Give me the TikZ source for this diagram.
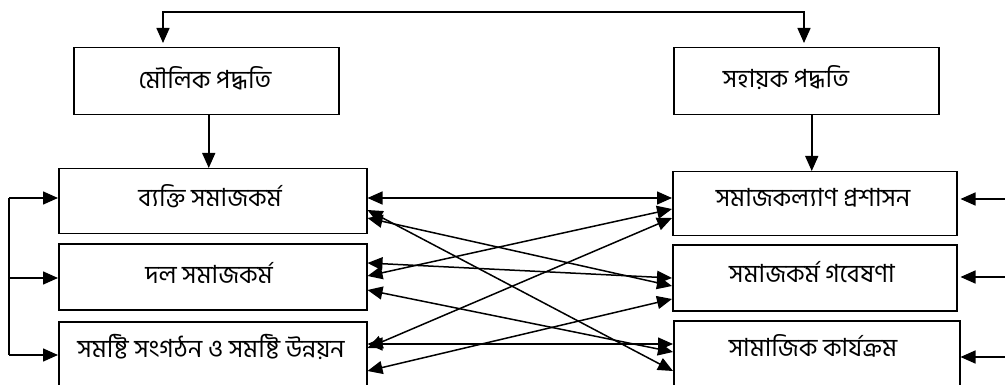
\documentclass[tikz,border=0pt]{standalone}
\usepackage{fontspec}
\newfontfamily\bnfont[Script=Bengali]{Hind Siliguri}
\usetikzlibrary{arrows.meta,calc}
\begin{document}
\begin{tikzpicture}[x=1pt,y=-1pt,
  box/.style={draw, line width=1.5pt, inner sep=0pt, anchor=north west},
  lbl/.style={font=\bnfont\fontsize{25}{30}\selectfont, inner sep=0pt},
  ln/.style={line width=1.5pt},
  arr/.style={ln, -{Triangle[length=15pt,width=13pt]}},
  dbl/.style={ln, {Triangle[length=15pt,width=13pt]}-{Triangle[length=15pt,width=13pt]}},
  ]
\clip (0,0) rectangle (1005,385);

% method boxes
\node[box, minimum width=265pt, minimum height=67pt] (lt) at (73,47) {};
\node[box, minimum width=265pt, minimum height=67pt] (rt) at (673,47) {};
\node[lbl] (ltt) at (205,78) {মৌলিক পদ্ধতি};
\node[lbl] (rtt) at (786,78) {সহায়ক পদ্ধতি};

% left column
\node[box, minimum width=308pt, minimum height=65pt] (l1) at (58,168) {};
\node[box, minimum width=308pt, minimum height=66pt] (l2) at (58,243) {};
\node[box, minimum width=308pt, minimum height=80pt] (l3) at (58,321) {};
\node[lbl] (l1t) at (210,196) {ব্যক্তি সমাজকর্ম};
\node[lbl] (l2t) at (209,273) {দল সমাজকর্ম};
\node[lbl] (l3t) at (211,347) {সমষ্টি সংগঠন ও সমষ্টি উন্নয়ন};

% right column
\node[box, minimum width=284pt, minimum height=64pt] (r1) at (672,171) {};
\node[box, minimum width=284pt, minimum height=66pt] (r2) at (672,244) {};
\node[box, minimum width=286pt, minimum height=80pt] (r3) at (673,320) {};
\node[lbl] (r1t) at (813,198) {সমাজকল্যাণ প্রশাসন};
\node[lbl] (r2t) at (812,272) {সমাজকর্ম গবেষণা};
\node[lbl] (r3t) at (813,346) {সামাজিক কার্যক্রম};

% link between the two method boxes
\draw[dbl, shorten <=4pt, shorten >=4pt]
  ($(lt.north west)+(90,0)$) -- ++(0,-35) -| ($(rt.north west)+(131,0)$);

% method boxes feed the columns
\coordinate (d1) at ($(lt.south)+(2.5,0)$);
\coordinate (d2) at ($(rt.south)+(5.5,0)$);
\draw[arr] (d1) -- (d1 |- l1.north);
\draw[arr] (d2) -- (d2 |- r1.north);

% left bracket
\coordinate (b1) at (9,198);
\coordinate (b2) at (9,278);
\coordinate (b3) at (9,355);
\draw[ln] (b1) -- (b3);
\draw[arr] (b1) -- (b1 -| l1.west);
\draw[arr] (b2) -- (b2 -| l2.west);
\draw[arr] (b3) -- (b3 -| l3.west);

% arrows entering from the right
\coordinate (e1) at (1010,199);
\coordinate (e2) at (1010,277);
\coordinate (e3) at (1010,357);
\draw[arr, shorten >=3pt] (e1) -- (e1 -| r1.east);
\draw[arr, shorten >=3pt] (e2) -- (e2 -| r2.east);
\draw[arr] (e3) -- (e3 -| r3.east);

% every left box linked with every right box
\draw[dbl] ($(l1.north east)+(0,30)$) -- ($(r1.north west)+(0,27)$);
\draw[dbl] ($(l1.north east)+(0,50)$) -- ($(r2.north west)+(0,42)$);
\draw[dbl] ($(l1.north east)+(0,42)$) -- ($(r3.north west)+(0,51)$);
\draw[dbl] ($(l2.north east)+(0,33)$) -- ($(r1.north west)+(0,38)$);
\draw[dbl] ($(l2.north east)+(0,20)$) -- ($(r2.north west)+(0,34)$);
\draw[dbl] ($(l2.north east)+(0,47)$) -- ($(r3.north west)+(0,32)$);
\draw[dbl] ($(l3.north east)+(0,27)$) -- ($(r1.north west)+(0,47)$);
\draw[dbl] ($(l3.north east)+(0,50)$) -- ($(r2.north west)+(0,55)$);
\draw[dbl] ($(l3.north east)+(0,23)$) -- ($(r3.north west)+(0,24)$);
\end{tikzpicture}
\end{document}
